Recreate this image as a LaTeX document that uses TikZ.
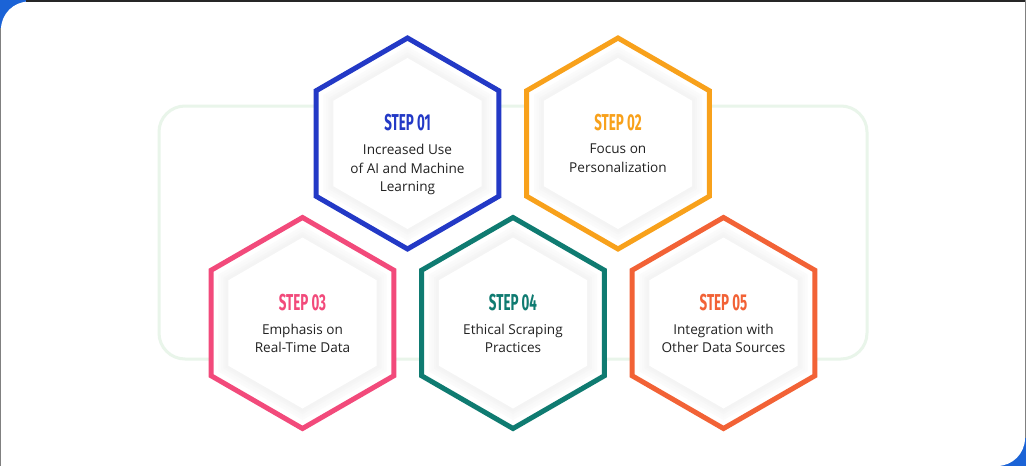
\documentclass[tikz,border=0pt]{standalone}
\usepackage{fontspec}
\setmainfont{Open Sans}
\newfontfamily\stepfont[FakeStretch=0.58]{Fira Sans}
\usepackage{tikz}
\usetikzlibrary{shapes.geometric}

\definecolor{stepblue}{HTML}{2339C6}
\definecolor{steporange}{HTML}{F8A11B}
\definecolor{steppink}{HTML}{F24A7B}
\definecolor{stepteal}{HTML}{0F7B71}
\definecolor{stepred}{HTML}{F26236}
\definecolor{cornerblue}{HTML}{1B63D6}
\definecolor{framegreen}{HTML}{E9F5EA}
\definecolor{bodytext}{HTML}{222222}

\tikzset{
  hexshape/.style={regular polygon, regular polygon sides=6, shape border rotate=90, inner sep=0pt},
  hexring/.style={hexshape, draw=#1, line width=5pt, fill=white, minimum size=211pt},
  hexshade/.style 2 args={hexshape, fill=gray!#1, minimum size=#2},
  steplabel/.style={text=#1, font=\stepfont\bfseries\fontsize{23}{23}\selectfont, inner sep=0pt},
  stepbody/.style={text=bodytext, font=\fontsize{13.6}{18.6}\selectfont, align=center, anchor=north, inner sep=0pt},
}

\begin{document}
\begin{tikzpicture}[x=1pt, y=-1pt]
    \useasboundingbox (0,0) rectangle (1026,466);

    % Page frame with the two blue corners
    \fill[cornerblue] (0,0) rectangle (1026,466);
    \fill[white, rounded corners=28pt] (1,1.5) rectangle (1025,466);
    \fill[white] (1,380) rectangle (80,466);
    \fill[white] (940,1.5) rectangle (1025,80);
    \draw[black!85, line width=1.5pt] (26,0.75) -- (1026,0.75);
    \draw[gray, line width=1pt] (0.5,28) -- (0.5,466);
    \draw[gray, line width=1pt] (1025.5,0) -- (1025.5,438);

    % Light green frame behind the hexagons
    \draw[framegreen, line width=3pt, rounded corners=26pt] (159,106) rectangle (867,359);

    % The five steps
    \foreach \nm/\cx/\cy/\col/\num/\txt in {
        one/407.5/143.5/stepblue/01/{Increased Use\\of AI and Machine\\Learning},
        two/618/143.5/steporange/02/{Focus on\\Personalization},
        three/302.5/323/steppink/03/{Emphasis on\\Real-Time Data},
        four/513/323/stepteal/04/{Ethical Scraping\\Practices},
        five/723.5/323/stepred/05/{Integration with\\Other Data Sources}} {
        \node[hexring=\col] (hex\nm) at (\cx,\cy) {};
        \foreach \g/\r in {3/194, 5/188, 7/182, 9/177}
            \node[hexshade={\g}{\r pt}] at (hex\nm) {};
        \node[hexshape, fill=white, minimum size=171pt] (core\nm) at (hex\nm) {};
        \node[steplabel=\col] (label\nm) at ([yshift=20.5pt]hex\nm.center) {STEP \num};
        \node[stepbody] (text\nm) at ([yshift=-0.5pt]hex\nm.center) {\txt};
    }
\end{tikzpicture}
\end{document}
